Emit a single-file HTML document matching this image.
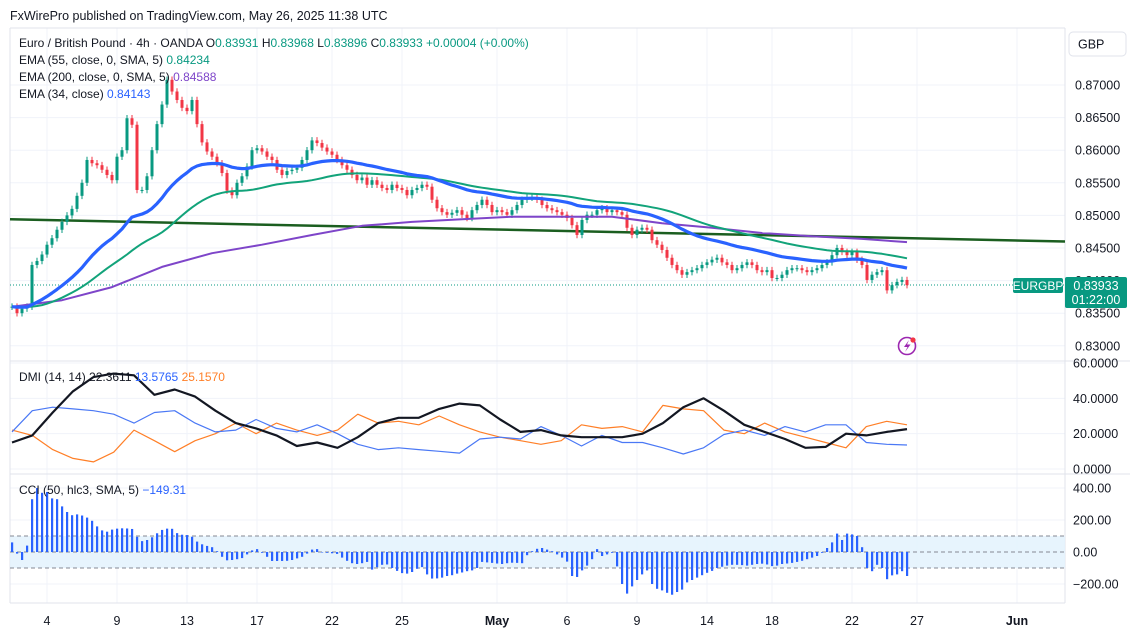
<!DOCTYPE html>
<html><head><meta charset="utf-8"><style>
html,body{margin:0;padding:0;background:#fff;}
svg{display:block;font-family:"Liberation Sans",sans-serif;}
</style></head><body>
<svg id="chart" width="1130" height="631" viewBox="0 0 1130 631" xmlns="http://www.w3.org/2000/svg">
<rect x="0" y="0" width="1130" height="631" fill="#ffffff"/>
<text x="10" y="20" font-size="12.5" fill="#131722">FxWirePro published on TradingView.com, May 26, 2025 11:38 UTC</text>
<g id="grid"></g>
<g id="panes"></g>
<g id="marks"></g>
<g id="labels"></g>
</svg>
<script>
// ---- data ----
const closes = [0.8360,0.8350,0.8357,0.8360,0.8424,0.8430,0.8440,0.8455,0.8465,0.8478,
0.8490,0.8500,0.8510,0.8530,0.8550,0.8585,0.8580,0.8577,0.8570,0.8562,
0.8554,0.8590,0.8600,0.8649,0.8639,0.8539,0.8539,0.8560,0.8600,0.8640,
0.8670,0.8708,0.8690,0.8677,0.8665,0.8660,0.8677,0.8640,0.8612,0.8598,
0.8590,0.8580,0.8565,0.8538,0.8531,0.8550,0.8560,0.8575,0.8600,0.8603,
0.8598,0.8590,0.8585,0.8570,0.8562,0.8568,0.8570,0.8573,0.8585,0.8600,
0.8615,0.8611,0.8604,0.8598,0.8593,0.8585,0.8577,0.8570,0.8562,0.8554,
0.8558,0.8547,0.8554,0.8547,0.8542,0.8539,0.8547,0.8542,0.8539,0.8531,
0.8539,0.8542,0.8547,0.8544,0.8524,0.8511,0.8505,0.8501,0.8504,0.8508,
0.8501,0.8496,0.8508,0.8516,0.8524,0.8516,0.8505,0.8508,0.8505,0.8501,
0.8508,0.8516,0.8524,0.8527,0.8527,0.8524,0.8516,0.8511,0.8508,0.8505,
0.8501,0.8496,0.8485,0.8470,0.8493,0.8501,0.8501,0.8508,0.8511,0.8505,
0.8508,0.8505,0.8501,0.8481,0.8470,0.8478,0.8481,0.8478,0.8462,0.8455,
0.8447,0.8435,0.8424,0.8416,0.8409,0.8413,0.8416,0.8419,0.8424,0.8428,
0.8432,0.8435,0.8428,0.8424,0.8416,0.8419,0.8424,0.8428,0.8424,0.8416,
0.8413,0.8416,0.8404,0.8404,0.8409,0.8416,0.8419,0.8419,0.8416,0.8413,
0.8416,0.8419,0.8424,0.8428,0.8439,0.8450,0.8444,0.8439,0.8444,0.8432,
0.8424,0.8401,0.8409,0.8413,0.8416,0.8385,0.8393,0.8398,0.8401,0.8393];
const ema200Pts = [0.8360,0.8370,0.8390,0.8421,0.8442,0.8455,0.8470,0.8484,0.8490,0.8494,0.8498,0.8498,0.8498,0.8488,0.8481,0.8473,0.8468,0.8464,0.8459];
const adx = [15,19,32,44,52,54,53,42,45,41,33,26,23,19,13,15,12,18,26,29,29,34,37,36,28,21,22,19,18,18,18,20,26,35,40,33,25,21,17,12,12.5,20,19,21,22.6];
const plusDI = [21,33,35,34,33,31,26,32,33,26,21,22,28,23,21,25,20,14,11,12,11,10,9,17,18,17,24,19,13,19,15,15,12,8.5,12,19.5,22,19,24,21,25,25,15,14,13.6];
const minusDI = [22,19,11,6,4,9.5,22,16,9.8,16,20,26,20,26,22,19,22,31,26,27,25,30,25,21,18,16,14,16,25,23,24,21,36,34,33,22,20,26,21,18,15,12,24,27,25];
const cci = [60,-10,-50,40,330,400,370,375,335,330,285,250,230,235,228,215,195,160,135,127,
140,146,148,147,144,95,68,75,92,117,138,146,145,118,108,106,95,65,48,38,
30,5,-30,-52,-50,-45,-38,-15,10,18,-5,-30,-56,-56,-56,-55,-50,-40,-30,-10,
15,18,0,-5,-8,-12,-35,-55,-70,-75,-70,-62,-110,-95,-80,-78,-100,-118,-132,-135,
-125,-105,-94,-140,-166,-165,-160,-150,-145,-135,-128,-120,-115,-100,-62,-65,-68,-72,-75,-70,
-67,-68,-70,-20,5,20,25,15,5,-15,-35,-60,-150,-156,-115,-85,-45,18,-25,-15,
-5,-90,-200,-260,-215,-175,-140,-115,-200,-230,-240,-255,-267,-250,-235,-190,-175,-160,-145,-130,
-118,-100,-92,-85,-80,-80,-82,-85,-80,-75,-73,-78,-88,-85,-75,-72,-68,-62,-55,-45,
-35,-25,-5,25,60,115,75,115,110,100,30,-100,-120,-80,-100,-170,-146,-140,-120,-150];
const priceTicks = [0.870,0.865,0.860,0.855,0.850,0.845,0.840,0.835,0.830];
const dmiTicks = [60,40,20,0];
const cciTicks = [400,200,0,-200];
const dateLabels = ["4","9","13","17","22","25","May","6","9","14","18","22","27","Jun"];
const dateBars = [7,21,35,49,64,78,97,111,125,139,152,168,181,201];
const trendStart = 0.8494, trendEnd = 0.8460;
const lastPrice = 0.83933;

// ---- scales ----
const PL=10, PR=1065;
const xBar = i => 12 + 5*i;
const yP = p => 85 + (0.870 - p)*6520;
const yD = v => 469 - v*1.767;
const yC = v => 552 - v*0.16;
const NS="http://www.w3.org/2000/svg";
function mk(tag, attrs, parent){const e=document.createElementNS(NS,tag);for(const k in attrs)e.setAttribute(k,attrs[k]);parent.appendChild(e);return e;}
const grid=document.getElementById('grid'), panes=document.getElementById('panes'), marks=document.getElementById('marks'), labels=document.getElementById('labels');

dateBars.forEach((b,i)=>{
  const gl=mk('line',{x1:xBar(b),x2:xBar(b),y1:28,y2:603,stroke:'#f0f3fa','stroke-width':1},grid);
  
  
  const t=mk('text',{x:xBar(b),y:625,'text-anchor':'middle','font-size':12.5,fill:'#131722','font-weight':(dateLabels[i]==='May'||dateLabels[i]==='Jun')?'bold':'normal'},labels);
  t.textContent=dateLabels[i];
  
  
});
priceTicks.forEach(p=>{
  const gl=mk('line',{x1:PL,x2:PR,y1:yP(p),y2:yP(p),stroke:'#f0f3fa'},grid);
  
  
  const t=mk('text',{x:1075,y:yP(p)+4.5,'font-size':12.5,fill:'#131722'},labels);
  t.textContent=p.toFixed(5);
  
  
});
dmiTicks.forEach(v=>{
  const gl=mk('line',{x1:PL,x2:PR,y1:yD(v),y2:yD(v),stroke:'#f0f3fa'},grid);
  
  
  const t=mk('text',{x:1073,y:yD(v)+4.5,'font-size':12.5,fill:'#131722'},labels);
  t.textContent=v.toFixed(4);
  
  
});
cciTicks.forEach(v=>{
  const gl=mk('line',{x1:PL,x2:PR,y1:yC(v),y2:yC(v),stroke:'#f0f3fa'},grid);
  
  
  const t=mk('text',{x:1073,y:yC(v)+4.5,'font-size':12.5,fill:'#131722'},labels);
  t.textContent=(v<0?'\u2212':'')+Math.abs(v).toFixed(2);
  
  
});

[[PL,28,PL,603],[PR,28,PR,603],[PL,28,PR,28],[PL,361,1130,361],[PL,474,1130,474],[PL,603,PR,603]].forEach(a=>{
  const l=mk('line',{x1:a[0],y1:a[1],x2:a[2],y2:a[3],stroke:'#e0e3eb'},panes);
  
  
});

const band=mk('rect',{x:PL,y:yC(100),width:PR-PL,height:yC(-100)-yC(100),fill:'#e3f2fd',opacity:0.85},panes);


[100,0,-100].forEach(v=>{
  const l=mk('line',{x1:PL,x2:PR,y1:yC(v),y2:yC(v),stroke:'#868993','stroke-dasharray':'4 3','stroke-width':1},panes);
  
  
});

function ema(arr,n){const a=2/(n+1);const out=[];let e=arr[0];arr.forEach(v=>{e=a*v+(1-a)*e;out.push(e);});return out;}
function sma(arr,n){return arr.map((v,i)=>{const s=arr.slice(Math.max(0,i-n+1),i+1);return s.reduce((a,b)=>a+b,0)/s.length;});}
const ema34=ema(closes,34), ema55=sma(ema(closes,55),5);
function pathFrom(vals,xf,yf){return vals.map((v,i)=>(i?'L':'M')+xf(i).toFixed(1)+' '+yf(v).toFixed(1)).join(' ');}
const e200X = k => xBar(Math.min(k*10, closes.length-1));

const tl=mk('line',{x1:PL,y1:yP(trendStart),x2:PR,y2:yP(trendEnd),stroke:'#1b5e20','stroke-width':2.5},marks);



const pl=mk('line',{x1:PL,x2:PR,y1:yP(lastPrice),y2:yP(lastPrice),stroke:'#089981','stroke-dasharray':'1 2','stroke-width':1},marks);



closes.forEach((c,i)=>{
  const o=i?closes[i-1]:c;
  const up=c>=o, col=up?'#089981':'#f23645';
  const hi=Math.max(o,c)+0.0005, lo=Math.min(o,c)-0.0005;
  const x=xBar(i);
  const w=mk('line',{x1:x,x2:x,y1:yP(hi),y2:yP(lo),stroke:col,'stroke-width':1},marks);
  
  
  const top=yP(Math.max(o,c)), h=Math.max(1,yP(Math.min(o,c))-top);
  const b=mk('rect',{x:x-1.5,y:top,width:3,height:h,fill:col},marks);
  
  
});

const p200=mk('path',{d:pathFrom(ema200Pts,e200X,yP),fill:'none',stroke:'#7e45c9','stroke-width':2,'stroke-linejoin':'round'},marks);


[[ema55,'#12a37a',2,'ema55-line'],[ema34,'#2962ff',3.2,'ema34-line']].forEach(s=>{
  const p=mk('path',{d:pathFrom(s[0],xBar,yP),fill:'none',stroke:s[1],'stroke-width':s[2],'stroke-linejoin':'round'},marks);
  
  
});

const dmiX = k => xBar(k*(closes.length-1)/(adx.length-1));
[[minusDI,'#ff7f27',1.2,'minus-di-line'],[plusDI,'#4a78f5',1.2,'plus-di-line'],[adx,'#131722',2.2,'adx-line']].forEach(s=>{
  const p=mk('path',{d:pathFrom(s[0],dmiX,yD),fill:'none',stroke:s[1],'stroke-width':s[2],'stroke-linejoin':'round'},marks);
  
  
});

cci.forEach((v,i)=>{
  const y0=yC(0), y1=yC(v);
  const r=mk('rect',{x:xBar(i)-1,y:Math.min(y0,y1),width:2.2,height:Math.max(0.5,Math.abs(y1-y0)),fill:'#2962ff'},marks);
  
  
});
</script>
<script>
(function(){
const NS="http://www.w3.org/2000/svg", svg=document.getElementById('chart');
const g=document.createElementNS(NS,'g'); svg.appendChild(g);
g.innerHTML=`
<text x="19" y="47" font-size="12" fill="#131722">Euro / British Pound · 4h · OANDA <tspan>O</tspan><tspan fill="#089981">0.83931</tspan> H<tspan fill="#089981">0.83968</tspan> L<tspan fill="#089981">0.83896</tspan> C<tspan fill="#089981">0.83933</tspan> <tspan fill="#089981">+0.00004 (+0.00%)</tspan></text>
<text x="19" y="64" font-size="12" fill="#131722">EMA (55, close, 0, SMA, 5) <tspan fill="#089981">0.84234</tspan></text>
<text x="19" y="81" font-size="12" fill="#131722">EMA (200, close, 0, SMA, 5) <tspan fill="#7e45c9">0.84588</tspan></text>
<text x="19" y="98" font-size="12" fill="#131722">EMA (34, close) <tspan fill="#2962ff">0.84143</tspan></text>
<text x="19" y="381" font-size="12" fill="#131722">DMI (14, 14) 22.3611 <tspan fill="#2962ff">13.5765</tspan> <tspan fill="#ff7f27">25.1570</tspan></text>
<text x="19" y="494" font-size="12" fill="#131722">CCI (50, hlc3, SMA, 5) <tspan fill="#2962ff">−149.31</tspan></text>
<rect x="1069" y="32" width="57" height="24" rx="4" fill="#fff" stroke="#e0e3eb"/>
<text x="1078" y="48.5" font-size="12.5" fill="#131722">GBP</text>
<rect x="1013" y="278" width="50" height="15" rx="2" fill="#089981"/>
<text x="1038" y="290" font-size="12" fill="#fff" text-anchor="middle">EURGBP</text>
<rect x="1065" y="277" width="62" height="31" rx="2" fill="#089981"/>
<text x="1096" y="290" font-size="12.5" fill="#fff" text-anchor="middle">0.83933</text>
<text x="1096" y="304" font-size="12.5" fill="#fff" text-anchor="middle">01:22:00</text>
<g>
<circle cx="907" cy="346" r="8.5" fill="none" stroke="#9c27b0" stroke-width="1.6"/>
<path d="M909 340 L904 347 L907.5 347 L905 352 L910.5 344.5 L907 344.5 Z" fill="#9c27b0"/>
<circle cx="913" cy="340" r="2.6" fill="#f23645"/>
</g>`;
})();
</script>
</body></html>
